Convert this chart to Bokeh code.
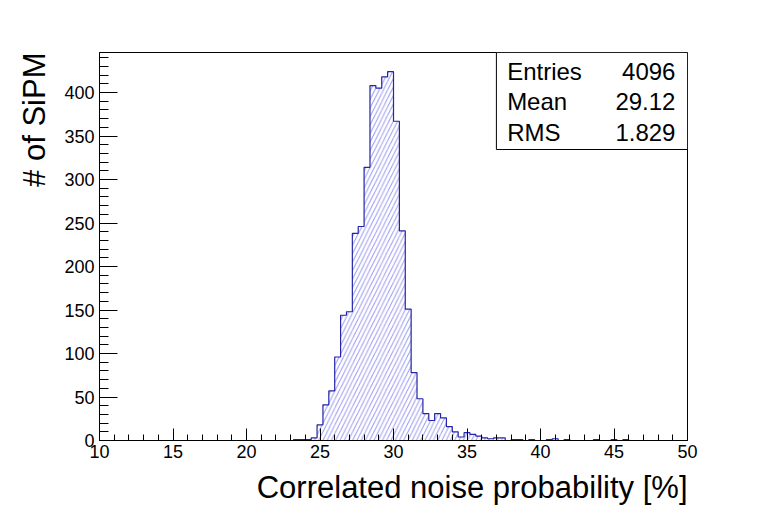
import numpy as np
from bokeh.plotting import figure
from bokeh.models import SingleIntervalTicker, Label, BoxAnnotation, Range1d, ColumnDataSource, Title
from bokeh.embed import file_html
from bokeh.resources import INLINE

# ---- data ----
x_low = 10.0
x_high = 50.0
counts = [
    0, 0, 0, 0, 0, 0, 0, 0, 0, 0,
    0, 0, 0, 0, 0, 0, 0, 0, 0, 0,
    0, 0, 0, 0, 0, 0, 0, 0, 0, 0,
    0, 0, 0, 1, 1, 1, 3, 18, 41, 57,
    96, 144, 148, 238, 246, 314, 408, 405, 418, 424,
    367, 241, 151, 78, 48, 31, 23, 31, 26, 16,
    10, 4, 9, 7, 5, 3, 2, 3, 3, 0,
    1, 1, 0, 1, 0, 0, 1, 2, 0, 1,
    0, 0, 0, 0, 1, 0, 0, 1, 0, 1,
    0, 0, 0, 0, 0, 0, 0, 0, 0, 0,
]
stat_names = ["Entries", "Mean", "RMS"]
stat_values = ["4096", "29.12", "1.829"]
x_title = "Correlated noise probability [%]"
y_title = "# of SiPM"

FONT = "Liberation Sans"

n = len(counts)
edges = np.linspace(x_low, x_high, n + 1)
left = edges[:-1]
right = edges[1:]
c = np.array(counts, dtype=float)

src = ColumnDataSource(dict(left=left, right=right, top=c, bottom=np.zeros(n)))

# step outline
xs = np.concatenate([[x_low], np.column_stack([left, right]).ravel(), [x_high]])
ys = np.concatenate([[0.0], np.repeat(c, 2), [0.0]])

p = figure(width=764, height=518,
           x_range=Range1d(x_low, x_high), y_range=Range1d(0, 446),
           output_backend="svg", toolbar_location=None, title=None,
           min_border_left=99, min_border_right=77,
           min_border_top=52, min_border_bottom=78)

p.background_fill_color = "white"
p.border_fill_color = "white"
p.xgrid.visible = False
p.ygrid.visible = False
p.outline_line_color = "black"
p.outline_line_width = 1
p.outline_line_alpha = 1

p.quad(left="left", right="right", top="top", bottom="bottom", source=src,
       fill_color=None, line_color=None,
       hatch_pattern="/", hatch_color="#9a9af0", hatch_scale=8.5, hatch_weight=1)
p.line(xs, ys, line_color="#2424a8", line_width=1.2)

p.xaxis.ticker = SingleIntervalTicker(interval=5, num_minor_ticks=5)
p.yaxis.ticker = SingleIntervalTicker(interval=50, num_minor_ticks=5)

for ax in (p.xaxis[0], p.yaxis[0]):
    ax.axis_line_color = "black"
    ax.major_tick_line_color = "black"
    ax.minor_tick_line_color = "black"
    ax.major_tick_out = 0
    ax.minor_tick_out = 0
    ax.major_label_text_font = FONT
    ax.major_label_text_font_size = "18px"
    ax.major_label_text_color = "black"

p.xaxis.major_tick_in = 12
p.xaxis.minor_tick_in = 6
p.xaxis.major_label_standoff = 4
p.yaxis.major_tick_in = 18
p.yaxis.minor_tick_in = 9
p.yaxis.major_label_standoff = 5

# stats box
p.add_layout(BoxAnnotation(left=37.0, bottom=334.5, fill_color="white", fill_alpha=1.0,
                           line_color="black", line_width=1, line_alpha=1.0))
stat_y = [423.7, 389.3, 354.3]
for name, val, yy in zip(stat_names, stat_values, stat_y):
    p.add_layout(Label(x=37.73, y=yy, text=name, text_align="left", text_baseline="alphabetic",
                       text_font=FONT, text_font_size="24px", text_color="black"))
    p.add_layout(Label(x=49.18, y=yy, text=val, text_align="right", text_baseline="alphabetic",
                       text_font=FONT, text_font_size="24px", text_color="black"))

# axis titles
p.add_layout(Title(text=x_title, align="right", text_font=FONT, text_font_size="31px",
                   text_font_style="normal", text_color="black", standoff=14), "below")
p.add_layout(Title(text=y_title, align="right", text_font=FONT, text_font_size="31px",
                   text_font_style="normal", text_color="black", standoff=20), "left")

open("out.html", "w").write(file_html(p, INLINE))
